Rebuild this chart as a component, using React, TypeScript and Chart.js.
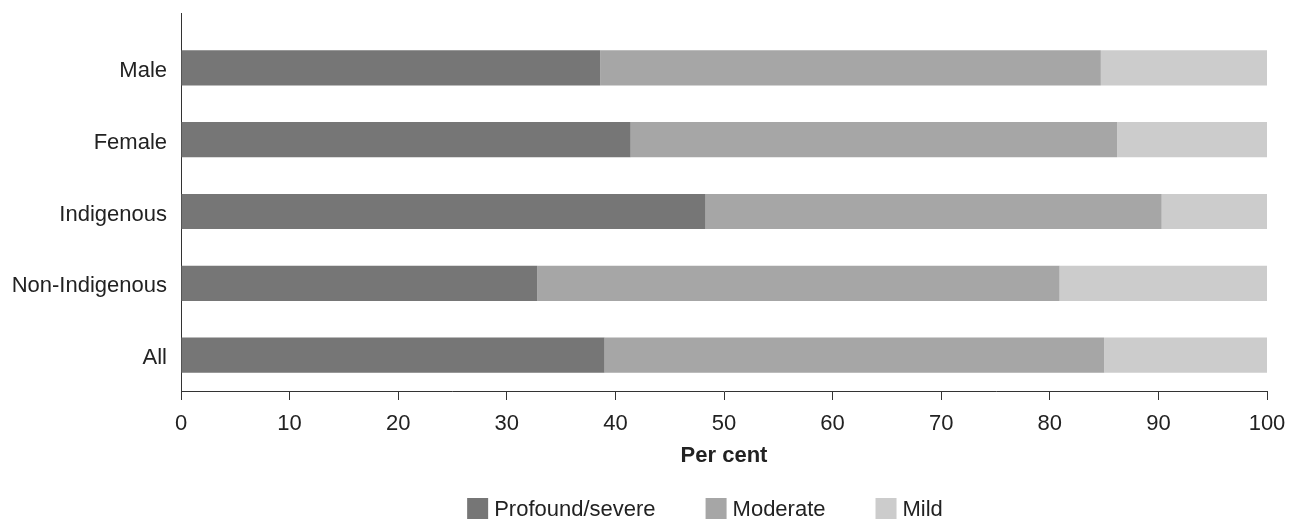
import { useEffect, useRef } from "react";
import { Chart, registerables } from "chart.js";

Chart.register(...registerables);

const categories = ["Male", "Female", "Indigenous", "Non-Indigenous", "All"];
const seriesNames = ["Profound/severe", "Moderate", "Mild"];
const profoundSevere = [38.6, 41.4, 48.3, 32.8, 39.0];
const moderate = [46.1, 44.8, 42.0, 48.1, 46.0];
const mild = [15.3, 13.8, 9.7, 19.1, 15.0];
const seriesColors = ["#767676", "#a6a6a6", "#cccccc"];
const xAxisTitle = "Per cent";

const FONT = "'Liberation Sans', Arial, Helvetica, sans-serif";
const TEXT = "#222222";
const AXIS = "#333333";

const axisExtension = {
  id: "axisExtension",
  afterDraw(chart: any, _args: any, opts: any) {
    const { ctx, chartArea } = chart;
    const x = Math.round(chartArea.left - 0.5) + 0.5;
    ctx.save();
    ctx.strokeStyle = opts.color;
    ctx.lineWidth = 1;
    ctx.beginPath();
    ctx.moveTo(x, opts.top);
    ctx.lineTo(x, chartArea.top + 1);
    ctx.stroke();
    ctx.restore();
  },
};

const bottomLegend = {
  id: "bottomLegend",
  afterDraw(chart: any, _args: any, opts: any) {
    const ctx = chart.ctx;
    ctx.save();
    ctx.font = `${opts.fontSize}px ${FONT}`;
    const items = chart.data.datasets.map((ds: any) => ({
      text: ds.label,
      color: ds.backgroundColor,
      w: ctx.measureText(ds.label).width,
    }));
    const total =
      items.reduce((s: number, it: any) => s + opts.box + opts.gap + it.w, 0) +
      opts.spacing * (items.length - 1);
    let x = opts.centerX - total / 2;
    for (const it of items) {
      ctx.fillStyle = it.color;
      ctx.fillRect(x, opts.boxTop, opts.box, opts.box);
      ctx.fillStyle = opts.color;
      ctx.textBaseline = "middle";
      ctx.textAlign = "left";
      ctx.fillText(it.text, x + opts.box + opts.gap, opts.boxTop + opts.box / 2 + 1);
      x += opts.box + opts.gap + it.w + opts.spacing;
    }
    ctx.restore();
  },
};

export default function App() {
  const ref = useRef<HTMLCanvasElement | null>(null);

  useEffect(() => {
    if (!ref.current) return;
    const values = [profoundSevere, moderate, mild];
    const chart = new Chart(ref.current, {
      type: "bar",
      data: {
        labels: categories,
        datasets: seriesNames.map((name, i) => ({
          label: name,
          data: values[i],
          backgroundColor: seriesColors[i],
          borderWidth: 0,
          barPercentage: 0.49,
          categoryPercentage: 1,
        })),
      },
      plugins: [axisExtension, bottomLegend],
      options: {
        indexAxis: "y",
        animation: false,
        responsive: true,
        maintainAspectRatio: false,
        layout: { padding: { top: 32, right: 26, left: 0, bottom: 0 } },
        plugins: {
          legend: { display: false },
          tooltip: { enabled: false },
          axisExtension: { top: 13, color: AXIS },
          bottomLegend: {
            centerX: 705,
            boxTop: 498,
            box: 21,
            gap: 6,
            spacing: 50,
            fontSize: 22,
            color: TEXT,
          },
        } as any,
        scales: {
          x: {
            stacked: true,
            min: 0,
            max: 100,
            ticks: {
              stepSize: 10,
              color: TEXT,
              padding: 11,
              font: { family: FONT, size: 22 },
            },
            grid: {
              display: true,
              drawOnChartArea: false,
              drawTicks: true,
              tickLength: 9,
              color: AXIS,
            },
            border: { display: true, color: AXIS, width: 1 },
            title: {
              display: true,
              text: xAxisTitle,
              color: TEXT,
              font: { family: FONT, size: 22, weight: "bold" },
              padding: { top: 0, bottom: 52 },
            },
            afterFit: (scale: any) => {
              scale.height = 130;
              scale.paddingRight = 0;
              scale.paddingLeft = 0;
            },
          },
          y: {
            stacked: true,
            ticks: {
              color: TEXT,
              padding: 14,
              labelOffset: 3,
              font: { family: FONT, size: 22 },
            },
            grid: { display: false, drawTicks: false },
            border: { display: true, color: AXIS, width: 1 },
            afterFit: (scale: any) => {
              scale.width = 181;
            },
          },
        },
      },
    });
    return () => chart.destroy();
  }, []);

  return (
    <div style={{ position: "absolute", left: 0, top: 0, width: 1293, height: 521 }}>
      <canvas ref={ref} />
    </div>
  );
}
